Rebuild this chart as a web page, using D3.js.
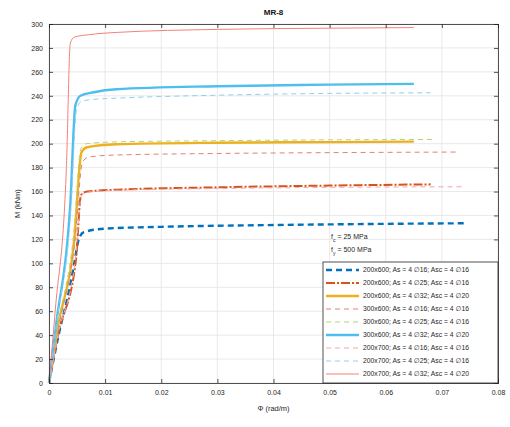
<!DOCTYPE html>
<html>
<head>
<meta charset="utf-8">
<script src="https://cdn.jsdelivr.net/npm/d3@7"></script>
<style>
  body { margin: 0; background: #fff; }
  svg { font-family: "Liberation Sans", "DejaVu Sans", sans-serif; }
  .tick text { fill: #262626; font-size: 7px; }
</style>
</head>
<body>
<div id="chart"></div>
<script>
// curvature (rad/m) vs moment (kNm)
var curve1 = [[0,0],[0.0018,42],[0.0037,80],[0.0045,100],[0.0053,120],[0.0062,126],[0.01,129],[0.02,130.5],[0.04,132],[0.06,133],[0.0745,133.5]];
var curve2 = [[0,0],[0.0016,40],[0.0048,103],[0.0057,157],[0.0068,160],[0.012,161.5],[0.03,163.5],[0.05,165],[0.068,166]];
var curve3 = [[0,0],[0.0015,45],[0.0045,120],[0.0058,193],[0.0068,197],[0.012,199.5],[0.03,200.8],[0.05,201.3],[0.065,201.7]];
var curve4 = [[0,0],[0.0016,44],[0.0046,118],[0.0060,185],[0.0072,189],[0.012,190.5],[0.03,191.8],[0.05,192.5],[0.073,193]];
var curve5 = [[0,0],[0.0015,46],[0.0044,125],[0.0057,196],[0.0067,200],[0.012,201.5],[0.03,202.5],[0.05,203.2],[0.0685,203.5]];
var curve6 = [[0,0],[0.0013,50],[0.0038,150],[0.0047,232],[0.0056,240],[0.008,243],[0.012,245.5],[0.03,248],[0.05,249.3],[0.065,250]];
var curve7 = [[0,0],[0.0016,40],[0.0047,104],[0.0058,157],[0.007,159.5],[0.012,161],[0.03,162.5],[0.05,163.5],[0.0738,164]];
var curve8 = [[0,0],[0.0013,48],[0.0039,145],[0.0049,228],[0.0058,235.5],[0.008,237],[0.012,238],[0.03,240.5],[0.05,242],[0.068,242.5]];
var curve9 = [[0,0],[0.0011,60],[0.0031,180],[0.0038,284],[0.0045,289],[0.007,291],[0.0122,293],[0.03,295.5],[0.05,296.5],[0.065,297]];

var curves = [curve1, curve2, curve3, curve4, curve5, curve6, curve7, curve8, curve9];

var seriesLabels = [
  "200x600; As = 4 \u220516; Asc = 4 \u220516",
  "200x600; As = 4 \u220525; Asc = 4 \u220516",
  "200x600; As = 4 \u220532; Asc = 4 \u220520",
  "300x600; As = 4 \u220516; Asc = 4 \u220516",
  "300x600; As = 4 \u220525; Asc = 4 \u220516",
  "300x600; As = 4 \u220532; Asc = 4 \u220520",
  "200x700; As = 4 \u220516; Asc = 4 \u220516",
  "200x700; As = 4 \u220525; Asc = 4 \u220516",
  "200x700; As = 4 \u220532; Asc = 4 \u220520"
];

var xTicks = [0, 0.01, 0.02, 0.03, 0.04, 0.05, 0.06, 0.07, 0.08];
var yTicks = d3.range(0, 301, 20);

// line styles
var styles = [
  { color: '#0072BD', width: 2.4, dash: '6,4' },
  { color: '#D95319', width: 2.0, dash: '9,2,2,2' },
  { color: '#EDB120', width: 2.4, dash: null },
  { color: '#e2826f', width: 1.0, dash: '5,4' },
  { color: '#b9d36a', width: 1.0, dash: '5,4' },
  { color: '#4DBEEE', width: 2.4, dash: null },
  { color: '#f1a7b3', width: 1.0, dash: '5,4' },
  { color: '#8fd0ec', width: 1.0, dash: '5,4' },
  { color: '#f3807a', width: 1.0, dash: null }
];

var W = 510, H = 427;
var margin = { left: 49, right: 498, top: 24, bottom: 383 };

var svg = d3.select('#chart')
  .append('svg')
  .attr('width', W)
  .attr('height', H);

var xScale = d3.scaleLinear().domain([0, 0.08]).range([margin.left, margin.right]);
var yScale = d3.scaleLinear().domain([0, 300]).range([margin.bottom, margin.top]);

// grid
svg.append('g')
  .selectAll('line')
  .data(xTicks)
  .enter().append('line')
  .attr('x1', function(d){ return xScale(d); })
  .attr('x2', function(d){ return xScale(d); })
  .attr('y1', margin.top)
  .attr('y2', margin.bottom)
  .style('stroke', '#e3e3e3')
  .style('stroke-width', 0.8);

svg.append('g')
  .selectAll('line')
  .data(yTicks)
  .enter().append('line')
  .attr('x1', margin.left)
  .attr('x2', margin.right)
  .attr('y1', function(d){ return yScale(d); })
  .attr('y2', function(d){ return yScale(d); })
  .style('stroke', '#e3e3e3')
  .style('stroke-width', 0.8);

// curves
var line = d3.line()
  .x(function(d){ return xScale(d[0]); })
  .y(function(d){ return yScale(d[1]); })
  .curve(d3.curveMonotoneX);

svg.append('g')
  .selectAll('path')
  .data(curves)
  .enter().append('path')
  .attr('d', line)
  .style('fill', 'none')
  .style('stroke', function(d, i){ return styles[i].color; })
  .style('stroke-width', function(d, i){ return styles[i].width; })
  .style('stroke-dasharray', function(d, i){ return styles[i].dash; });

// axes
var xAxis = d3.axisBottom(xScale).tickValues(xTicks).tickSize(-4).tickPadding(7)
  .tickFormat(function(d){ return d === 0 ? '0' : d3.format('.2f')(d); });
var yAxis = d3.axisLeft(yScale).tickValues(yTicks).tickSize(-4).tickPadding(6);

svg.append('g')
  .attr('class', 'x-axis')
  .attr('transform', 'translate(0,' + margin.bottom + ')')
  .call(xAxis);

svg.append('g')
  .attr('class', 'y-axis')
  .attr('transform', 'translate(' + margin.left + ',0)')
  .call(yAxis);

svg.append('g')
  .attr('transform', 'translate(0,' + margin.top + ')')
  .call(d3.axisTop(xScale).tickValues(xTicks).tickSize(-4).tickFormat(''));

svg.append('g')
  .attr('transform', 'translate(' + margin.right + ',0)')
  .call(d3.axisRight(yScale).tickValues(yTicks).tickSize(-4).tickFormat(''));

svg.selectAll('.domain').style('stroke', '#262626').style('stroke-width', 0.8);
svg.selectAll('.tick line').style('stroke', '#262626').style('stroke-width', 0.8);

// labels
svg.append('text')
  .attr('x', (margin.left + margin.right) / 2)
  .attr('y', 15)
  .attr('text-anchor', 'middle')
  .style('font-size', '8px')
  .style('font-weight', 'bold')
  .style('fill', '#111')
  .text('MR-8');

svg.append('text')
  .attr('x', (margin.left + margin.right) / 2)
  .attr('y', 411)
  .attr('text-anchor', 'middle')
  .style('font-size', '7.5px')
  .style('fill', '#262626')
  .text('\u03A6 (rad/m)');

svg.append('text')
  .attr('transform', 'translate(20,' + ((margin.top + margin.bottom) / 2) + ') rotate(-90)')
  .attr('text-anchor', 'middle')
  .style('font-size', '7.5px')
  .style('fill', '#262626')
  .text('M (kNm)');

// material note
var note = svg.append('g').style('font-size', '7px').style('fill', '#262626');
var t1 = note.append('text').attr('x', 331).attr('y', 239);
t1.append('tspan').text('f');
t1.append('tspan').attr('baseline-shift', 'sub').style('font-size', '5px').text('c');
t1.append('tspan').text(' = 25 MPa');
var t2 = note.append('text').attr('x', 331).attr('y', 252);
t2.append('tspan').text('f');
t2.append('tspan').attr('baseline-shift', 'sub').style('font-size', '5px').text('y');
t2.append('tspan').text(' = 500 MPa');

// legend
var lx = 323, ly = 262, lw = margin.right - lx, lh = margin.bottom - ly;
svg.append('rect')
  .attr('x', lx)
  .attr('y', ly)
  .attr('width', lw)
  .attr('height', lh)
  .style('fill', '#fff')
  .style('stroke', '#262626')
  .style('stroke-width', 0.8);

var legend = svg.selectAll('.legend')
  .data(seriesLabels)
  .enter().append('g')
  .attr('class', 'legend')
  .attr('transform', function(d, i){ return 'translate(' + lx + ',' + (ly + 8 + i * 13) + ')'; });

legend.append('line')
  .attr('x1', 3)
  .attr('x2', 36)
  .attr('y1', 0)
  .attr('y2', 0)
  .style('stroke', function(d, i){ return styles[i].color; })
  .style('stroke-width', function(d, i){ return styles[i].width; })
  .style('stroke-dasharray', function(d, i){ return styles[i].dash; });

legend.append('text')
  .attr('x', 40)
  .attr('y', 0)
  .attr('dy', '.35em')
  .style('font-size', '6.8px')
  .style('fill', '#262626')
  .text(function(d){ return d; });
</script>
</body>
</html>
